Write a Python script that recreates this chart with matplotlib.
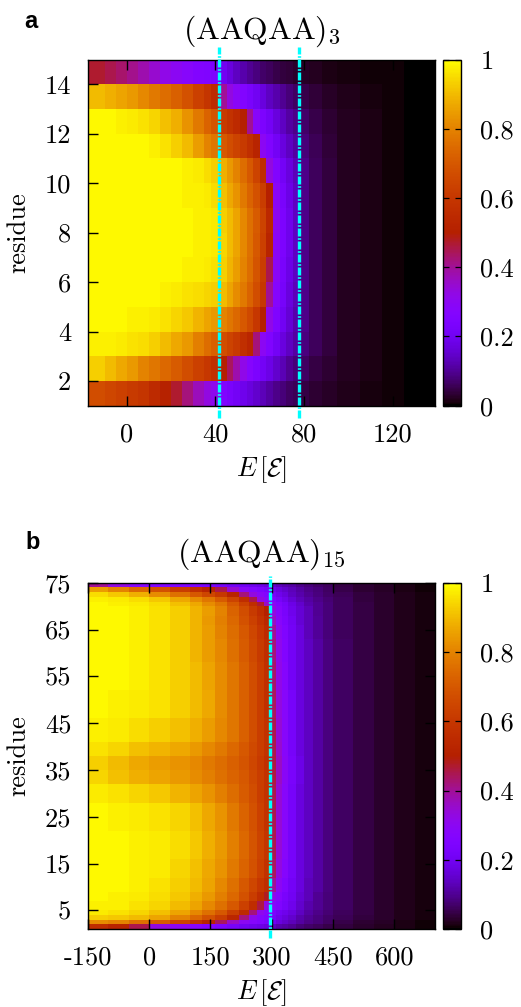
import numpy as np
import matplotlib
matplotlib.use('Agg')
from matplotlib import pyplot as plt

plt.rcParams['font.family'] = 'cmr10'
plt.rcParams['mathtext.fontset'] = 'cm'
plt.rcParams['axes.unicode_minus'] = False
plt.rcParams['font.size'] = 19

# ---------------- panel a : (AAQAA)3 ----------------
energy_edges_a = [-17.5, -10, -5, 0, 5, 10, 15, 20, 25, 30, 35, 38, 41.5, 45, 48, 51,
                  54, 57, 60, 63, 66, 69, 72, 75, 77.5, 82, 88, 95, 105, 115, 125, 139]
residue_edges_a = list(range(1, 16))
# helicity per residue band (bottom -> top), one value per energy bin
helicity_a = [
    [0.67, 0.65, 0.63, 0.61, 0.59, 0.55, 0.51, 0.47, 0.42, 0.37, 0.33, 0.31, 0.25, 0.23, 0.21, 0.19,
     0.17, 0.15, 0.13, 0.11, 0.09, 0.08, 0.065, 0.055, 0.045, 0.035, 0.025, 0.016, 0.01, 0.006, 0.003],
    [0.93, 0.90, 0.87, 0.84, 0.80, 0.77, 0.74, 0.71, 0.67, 0.63, 0.60, 0.57, 0.50, 0.44, 0.38, 0.32,
     0.27, 0.24, 0.21, 0.18, 0.15, 0.125, 0.10, 0.08, 0.065, 0.045, 0.032, 0.02, 0.012, 0.007, 0.003],
    [0.98, 0.98, 0.97, 0.96, 0.95, 0.93, 0.90, 0.87, 0.84, 0.79, 0.75, 0.72, 0.67, 0.64, 0.61, 0.57,
     0.53, 0.42, 0.30, 0.25, 0.21, 0.17, 0.14, 0.11, 0.085, 0.06, 0.04, 0.022, 0.013, 0.007, 0.003],
    [0.99, 0.99, 0.99, 0.98, 0.98, 0.97, 0.96, 0.94, 0.92, 0.89, 0.86, 0.84, 0.80, 0.77, 0.74, 0.70,
     0.66, 0.60, 0.50, 0.32, 0.25, 0.20, 0.16, 0.12, 0.09, 0.06, 0.04, 0.022, 0.013, 0.007, 0.003],
    [0.99, 0.99, 0.99, 0.99, 0.99, 0.99, 0.98, 0.97, 0.96, 0.95, 0.94, 0.93, 0.90, 0.86, 0.82, 0.78,
     0.73, 0.67, 0.60, 0.40, 0.27, 0.22, 0.17, 0.13, 0.09, 0.06, 0.04, 0.022, 0.013, 0.007, 0.003],
    [0.99, 0.99, 0.99, 0.99, 0.99, 0.99, 0.99, 0.99, 0.98, 0.98, 0.97, 0.96, 0.93, 0.89, 0.85, 0.80,
     0.75, 0.69, 0.62, 0.45, 0.29, 0.23, 0.18, 0.14, 0.09, 0.06, 0.04, 0.022, 0.013, 0.007, 0.003],
    [0.99, 0.99, 0.99, 0.99, 0.99, 0.99, 0.99, 0.99, 0.99, 0.98, 0.98, 0.97, 0.94, 0.90, 0.86, 0.81,
     0.76, 0.70, 0.63, 0.52, 0.29, 0.24, 0.19, 0.14, 0.09, 0.06, 0.04, 0.022, 0.013, 0.007, 0.003],
    [0.99, 0.99, 0.99, 0.99, 0.99, 0.99, 0.99, 0.99, 0.99, 0.98, 0.98, 0.97, 0.93, 0.90, 0.86, 0.81,
     0.76, 0.71, 0.64, 0.54, 0.30, 0.24, 0.19, 0.14, 0.09, 0.06, 0.04, 0.022, 0.013, 0.007, 0.003],
    [0.99, 0.99, 0.99, 0.99, 0.99, 0.99, 0.99, 0.99, 0.98, 0.98, 0.97, 0.95, 0.91, 0.87, 0.83, 0.78,
     0.73, 0.68, 0.62, 0.50, 0.29, 0.23, 0.18, 0.14, 0.09, 0.06, 0.04, 0.022, 0.013, 0.007, 0.003],
    [0.99, 0.99, 0.99, 0.99, 0.99, 0.99, 0.99, 0.99, 0.98, 0.97, 0.95, 0.93, 0.88, 0.84, 0.80, 0.75,
     0.70, 0.64, 0.56, 0.33, 0.26, 0.21, 0.17, 0.13, 0.09, 0.06, 0.04, 0.022, 0.013, 0.007, 0.003],
    [0.99, 0.99, 0.99, 0.99, 0.99, 0.98, 0.96, 0.93, 0.90, 0.85, 0.80, 0.77, 0.70, 0.67, 0.64, 0.61,
     0.57, 0.52, 0.30, 0.25, 0.21, 0.17, 0.14, 0.11, 0.08, 0.055, 0.037, 0.02, 0.012, 0.007, 0.003],
    [0.99, 0.99, 0.98, 0.97, 0.96, 0.94, 0.91, 0.88, 0.83, 0.78, 0.73, 0.69, 0.61, 0.58, 0.55, 0.50,
     0.40, 0.28, 0.24, 0.21, 0.17, 0.14, 0.11, 0.09, 0.07, 0.05, 0.033, 0.02, 0.012, 0.006, 0.003],
    [0.90, 0.88, 0.86, 0.84, 0.81, 0.78, 0.75, 0.72, 0.68, 0.63, 0.59, 0.55, 0.40, 0.33, 0.29, 0.26,
     0.23, 0.20, 0.17, 0.14, 0.12, 0.10, 0.08, 0.065, 0.05, 0.038, 0.027, 0.017, 0.01, 0.006, 0.003],
    [0.47, 0.45, 0.43, 0.41, 0.38, 0.35, 0.32, 0.30, 0.28, 0.26, 0.25, 0.24, 0.20, 0.17, 0.14, 0.12,
     0.10, 0.085, 0.07, 0.06, 0.05, 0.042, 0.036, 0.03, 0.025, 0.02, 0.015, 0.01, 0.007, 0.004, 0.002],
]
transitions_a = [41.6, 77.7]
xticks_a = [0, 40, 80, 120]
yticks_a = [2, 4, 6, 8, 10, 12, 14]

# ---------------- panel b : (AAQAA)15 ----------------
energy_edges_b = [-150, -100, -50, 0, 50, 100, 130, 160, 190, 220, 245, 265, 280, 295,
                  310, 325, 340, 360, 380, 400, 425, 450, 500, 550, 600, 650, 700]
residue_edges_b = [1, 2, 3, 4, 5, 7, 9, 12, 16, 22, 28, 32, 35, 38, 41, 46, 52, 58, 63,
                   66, 68, 70, 71, 72, 73, 74, 75]
helicity_b = [
    [0.56, 0.52, 0.45, 0.33, 0.30, 0.28, 0.26, 0.24, 0.22, 0.20, 0.19, 0.18, 0.17, 0.14, 0.12, 0.11, 0.10, 0.08, 0.07, 0.06, 0.05, 0.04, 0.03, 0.02, 0.012, 0.006],
    [0.82, 0.80, 0.76, 0.71, 0.64, 0.58, 0.52, 0.44, 0.36, 0.30, 0.27, 0.25, 0.23, 0.20, 0.17, 0.15, 0.13, 0.11, 0.09, 0.08, 0.065, 0.05, 0.035, 0.025, 0.015, 0.007],
    [0.93, 0.92, 0.90, 0.86, 0.80, 0.74, 0.68, 0.62, 0.53, 0.42, 0.31, 0.27, 0.25, 0.22, 0.19, 0.17, 0.15, 0.12, 0.10, 0.085, 0.07, 0.055, 0.04, 0.028, 0.016, 0.008],
    [0.97, 0.96, 0.94, 0.91, 0.86, 0.81, 0.76, 0.70, 0.62, 0.55, 0.42, 0.31, 0.27, 0.24, 0.21, 0.19, 0.17, 0.14, 0.11, 0.09, 0.075, 0.06, 0.045, 0.03, 0.018, 0.008],
    [0.98, 0.98, 0.96, 0.94, 0.90, 0.86, 0.81, 0.76, 0.70, 0.63, 0.56, 0.46, 0.33, 0.28, 0.25, 0.22, 0.19, 0.15, 0.12, 0.10, 0.08, 0.065, 0.045, 0.03, 0.018, 0.008],
    [0.99, 0.98, 0.97, 0.95, 0.92, 0.88, 0.84, 0.79, 0.74, 0.68, 0.62, 0.56, 0.48, 0.32, 0.27, 0.23, 0.20, 0.16, 0.13, 0.10, 0.08, 0.065, 0.045, 0.03, 0.018, 0.008],
    [0.99, 0.99, 0.98, 0.96, 0.93, 0.90, 0.86, 0.81, 0.76, 0.70, 0.65, 0.60, 0.56, 0.40, 0.30, 0.25, 0.21, 0.17, 0.13, 0.11, 0.085, 0.065, 0.045, 0.03, 0.018, 0.008],
    [0.99, 0.99, 0.98, 0.97, 0.94, 0.91, 0.87, 0.83, 0.78, 0.73, 0.68, 0.63, 0.58, 0.44, 0.33, 0.27, 0.22, 0.17, 0.14, 0.11, 0.085, 0.065, 0.045, 0.03, 0.018, 0.008],
    [0.99, 0.99, 0.98, 0.97, 0.95, 0.92, 0.88, 0.84, 0.79, 0.74, 0.69, 0.64, 0.59, 0.45, 0.34, 0.28, 0.22, 0.17, 0.14, 0.11, 0.085, 0.065, 0.045, 0.03, 0.018, 0.008],
    [0.99, 0.98, 0.97, 0.96, 0.94, 0.91, 0.87, 0.83, 0.78, 0.73, 0.68, 0.63, 0.58, 0.45, 0.34, 0.28, 0.22, 0.17, 0.14, 0.11, 0.085, 0.065, 0.045, 0.03, 0.018, 0.008],
    [0.97, 0.96, 0.94, 0.92, 0.89, 0.86, 0.83, 0.79, 0.75, 0.71, 0.67, 0.62, 0.58, 0.45, 0.34, 0.28, 0.22, 0.17, 0.14, 0.11, 0.085, 0.065, 0.045, 0.03, 0.018, 0.008],
    [0.94, 0.91, 0.88, 0.86, 0.84, 0.82, 0.79, 0.76, 0.73, 0.70, 0.66, 0.62, 0.58, 0.46, 0.36, 0.29, 0.23, 0.18, 0.14, 0.11, 0.085, 0.065, 0.045, 0.03, 0.018, 0.008],
    [0.93, 0.90, 0.87, 0.85, 0.83, 0.81, 0.78, 0.75, 0.72, 0.69, 0.65, 0.61, 0.57, 0.46, 0.36, 0.29, 0.23, 0.18, 0.14, 0.11, 0.085, 0.065, 0.045, 0.03, 0.018, 0.008],
    [0.96, 0.94, 0.91, 0.89, 0.87, 0.84, 0.81, 0.78, 0.74, 0.70, 0.66, 0.62, 0.58, 0.45, 0.35, 0.28, 0.22, 0.17, 0.14, 0.11, 0.085, 0.065, 0.045, 0.03, 0.018, 0.008],
    [0.98, 0.97, 0.95, 0.93, 0.91, 0.88, 0.85, 0.81, 0.77, 0.72, 0.67, 0.62, 0.58, 0.45, 0.34, 0.28, 0.22, 0.17, 0.14, 0.11, 0.085, 0.065, 0.045, 0.03, 0.018, 0.008],
    [0.99, 0.98, 0.97, 0.96, 0.93, 0.90, 0.87, 0.82, 0.77, 0.72, 0.67, 0.62, 0.57, 0.44, 0.33, 0.28, 0.22, 0.17, 0.14, 0.11, 0.085, 0.065, 0.045, 0.03, 0.018, 0.008],
    [0.99, 0.99, 0.98, 0.96, 0.93, 0.90, 0.86, 0.82, 0.77, 0.72, 0.67, 0.62, 0.57, 0.43, 0.32, 0.27, 0.21, 0.17, 0.14, 0.11, 0.085, 0.065, 0.045, 0.03, 0.018, 0.008],
    [0.99, 0.99, 0.98, 0.96, 0.93, 0.89, 0.85, 0.81, 0.76, 0.71, 0.66, 0.61, 0.56, 0.42, 0.31, 0.26, 0.21, 0.17, 0.14, 0.11, 0.085, 0.065, 0.045, 0.03, 0.018, 0.008],
    [0.99, 0.99, 0.98, 0.96, 0.93, 0.89, 0.85, 0.80, 0.75, 0.70, 0.65, 0.60, 0.55, 0.40, 0.30, 0.25, 0.21, 0.17, 0.13, 0.105, 0.08, 0.06, 0.045, 0.03, 0.018, 0.008],
    [0.99, 0.99, 0.98, 0.96, 0.93, 0.89, 0.84, 0.79, 0.74, 0.68, 0.63, 0.58, 0.53, 0.36, 0.28, 0.24, 0.20, 0.16, 0.13, 0.105, 0.08, 0.06, 0.045, 0.03, 0.018, 0.008],
    [0.99, 0.99, 0.98, 0.96, 0.93, 0.89, 0.85, 0.80, 0.73, 0.67, 0.61, 0.56, 0.50, 0.33, 0.27, 0.23, 0.19, 0.16, 0.13, 0.10, 0.08, 0.06, 0.045, 0.03, 0.018, 0.008],
    [0.99, 0.98, 0.97, 0.95, 0.91, 0.87, 0.82, 0.77, 0.70, 0.63, 0.56, 0.47, 0.36, 0.30, 0.25, 0.22, 0.18, 0.15, 0.12, 0.10, 0.08, 0.06, 0.045, 0.03, 0.018, 0.008],
    [0.98, 0.97, 0.95, 0.92, 0.87, 0.82, 0.77, 0.71, 0.64, 0.56, 0.45, 0.33, 0.29, 0.25, 0.22, 0.19, 0.16, 0.13, 0.11, 0.09, 0.075, 0.06, 0.04, 0.03, 0.018, 0.008],
    [0.95, 0.92, 0.88, 0.82, 0.76, 0.70, 0.65, 0.60, 0.52, 0.42, 0.33, 0.29, 0.26, 0.22, 0.19, 0.17, 0.14, 0.12, 0.10, 0.085, 0.07, 0.055, 0.04, 0.028, 0.016, 0.008],
    [0.85, 0.80, 0.74, 0.68, 0.62, 0.57, 0.52, 0.45, 0.35, 0.29, 0.26, 0.24, 0.22, 0.19, 0.17, 0.15, 0.13, 0.11, 0.09, 0.08, 0.065, 0.05, 0.035, 0.025, 0.015, 0.007],
    [0.40, 0.33, 0.28, 0.26, 0.25, 0.24, 0.23, 0.22, 0.21, 0.20, 0.19, 0.18, 0.17, 0.15, 0.13, 0.12, 0.11, 0.09, 0.08, 0.07, 0.06, 0.045, 0.035, 0.025, 0.015, 0.007],
]
transitions_b = [295]
xticks_b = [-150, 0, 150, 300, 450, 600]
yticks_b = [5, 15, 25, 35, 45, 55, 65, 75]

cbar_ticks = [0, 0.2, 0.4, 0.6, 0.8, 1]
cbar_labels = ['0', '0.2', '0.4', '0.6', '0.8', '1']

W, H = 521.0, 1007.0


def px_rect(x0, y0, x1, y1):
    # pixel box (top-left origin) -> figure fraction
    return [x0 / W, 1 - y1 / H, (x1 - x0) / W, (y1 - y0) / H]


def panel(fig, box, cbox, e_edges, r_edges, vals, lines, line_ext, xt, yt, title, letter, letter_xy):
    ax = fig.add_axes(px_rect(*box))
    mesh = ax.pcolormesh(e_edges, r_edges, np.array(vals), cmap='gnuplot',
                         vmin=0, vmax=1, shading='flat')
    ax.set_xlim(e_edges[0], e_edges[-1])
    ax.set_ylim(r_edges[0], r_edges[-1])
    ax.set_xticks(xt, labels=[str(t) for t in xt])
    ax.set_yticks(yt, labels=[str(t) for t in yt])
    ax.tick_params(direction='in', top=True, right=True, length=7, width=1,
                   pad=12, colors='black')
    for s in ax.spines.values():
        s.set_linewidth(1.0)
    for e in lines:
        ax.axvline(e, ymin=-line_ext[0], ymax=1 + line_ext[1], color='#00ffff', lw=2.4,
                   linestyle=(0, (2.4, 0.5, 0.5, 0.5)), clip_on=False, zorder=5)
    ax.set_title(title, pad=15)
    ax.set_xlabel(r'$E\,[\mathcal{E}]$')
    ax.xaxis.set_label_coords(0.5, -0.14)
    ax.set_ylabel('residue')
    ax.yaxis.set_label_coords(-0.165, 0.5)

    cax = fig.add_axes(px_rect(*cbox))
    cb = fig.colorbar(mesh, cax=cax, ticks=cbar_ticks)
    cb.ax.set_yticklabels(cbar_labels)
    cb.ax.tick_params(direction='in', left=True, right=True, length=4.5, width=0.9,
                      pad=14)
    cb.outline.set_linewidth(1.0)

    fig.text(letter_xy[0] / W, 1 - letter_xy[1] / H, letter, family='Liberation Sans',
             weight='bold', fontsize=17, va='baseline', ha='left')
    return ax


fig = plt.figure(figsize=(W / 100, H / 100), dpi=100)

panel(fig, (88, 59.5, 435, 405.7), (443, 59.5, 461, 405.7),
      energy_edges_a, residue_edges_a, helicity_a, transitions_a, (0.035, 0.035),
      xticks_a, yticks_a, r'$\mathrm{(AAQAA)}_{3}$', 'a', (24, 28))

panel(fig, (88, 582.8, 435, 929), (443, 582.8, 461, 929),
      energy_edges_b, residue_edges_b, helicity_b, transitions_b, (0.026, 0.02),
      xticks_b, yticks_b, r'$\mathrm{(AAQAA)}_{15}$', 'b', (25, 549))

plt.savefig('out.png', dpi=100)
